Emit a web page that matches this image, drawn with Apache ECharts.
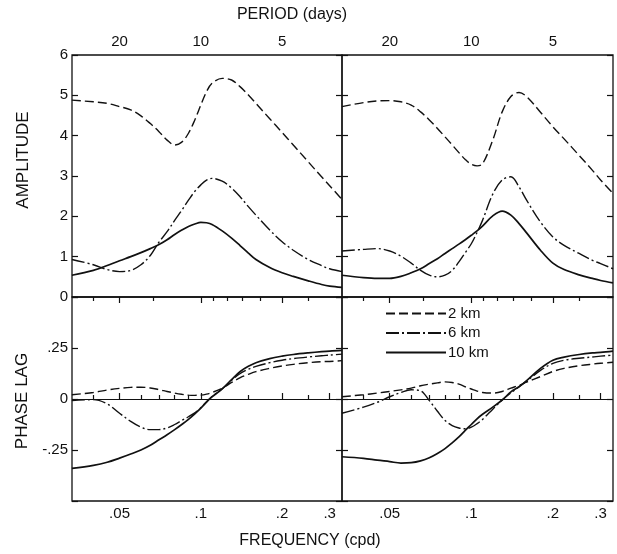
<!DOCTYPE html>
<html>
<head>
<meta charset="utf-8">
<script src="https://cdn.jsdelivr.net/npm/echarts@6/dist/echarts.min.js"></script>
<style>
html,body{margin:0;padding:0;background:#fff;}
#c{width:617px;height:554px;}
</style>
</head>
<body>
<div id="c"></div>
<script>
// Frequency samples (cpd)
var freq = [0.0333, 0.04, 0.045, 0.05, 0.055, 0.06, 0.065, 0.07, 0.075, 0.08, 0.085, 0.09, 0.095, 0.1, 0.105, 0.11, 0.12, 0.13, 0.14, 0.15, 0.16, 0.18, 0.2, 0.22, 0.25, 0.28, 0.3, 0.3333];

// Amplitude, left panel
var ampL_2km  = [4.88, 4.84, 4.8, 4.72, 4.64, 4.49, 4.3, 4.1, 3.89, 3.77, 3.84, 4.06, 4.39, 4.76, 5.09, 5.3, 5.42, 5.38, 5.21, 5.01, 4.8, 4.42, 4.08, 3.77, 3.35, 2.98, 2.76, 2.42];
var ampL_6km  = [0.93, 0.80, 0.68, 0.63, 0.66, 0.8, 1.03, 1.36, 1.62, 1.9, 2.15, 2.4, 2.62, 2.78, 2.9, 2.94, 2.87, 2.7, 2.48, 2.24, 2.03, 1.66, 1.37, 1.16, 0.93, 0.78, 0.7, 0.63];
var ampL_10km = [0.54, 0.66, 0.78, 0.9, 1.0, 1.1, 1.2, 1.3, 1.42, 1.55, 1.66, 1.75, 1.81, 1.85, 1.84, 1.8, 1.64, 1.46, 1.27, 1.09, 0.93, 0.73, 0.6, 0.51, 0.4, 0.31, 0.27, 0.24];

// Amplitude, right panel
var ampR_2km  = [4.72, 4.82, 4.86, 4.87, 4.84, 4.76, 4.59, 4.39, 4.18, 3.97, 3.77, 3.58, 3.41, 3.29, 3.25, 3.3, 3.89, 4.59, 4.97, 5.07, 4.97, 4.58, 4.22, 3.92, 3.51, 3.14, 2.9, 2.57];
var ampR_6km  = [1.14, 1.18, 1.2, 1.14, 1.01, 0.84, 0.66, 0.54, 0.5, 0.54, 0.66, 0.87, 1.1, 1.32, 1.6, 1.9, 2.55, 2.9, 2.98, 2.73, 2.4, 1.86, 1.49, 1.28, 1.08, 0.91, 0.83, 0.7];
var ampR_10km = [0.54, 0.48, 0.46, 0.46, 0.51, 0.6, 0.7, 0.83, 0.95, 1.08, 1.2, 1.31, 1.42, 1.53, 1.64, 1.76, 2.01, 2.13, 2.03, 1.82, 1.59, 1.16, 0.84, 0.68, 0.55, 0.46, 0.41, 0.35];

// Phase lag, left panel
var phL_2km  = [0.021, 0.032, 0.044, 0.052, 0.057, 0.058, 0.054, 0.046, 0.037, 0.029, 0.023, 0.019, 0.018, 0.019, 0.024, 0.032, 0.053, 0.081, 0.105, 0.121, 0.134, 0.150, 0.162, 0.17, 0.178, 0.183, 0.184, 0.188];
var phL_6km  = [-0.008, -0.003, -0.024, -0.07, -0.11, -0.138, -0.15, -0.15, -0.142, -0.125, -0.105, -0.087, -0.068, -0.043, -0.013, 0.012, 0.05, 0.092, 0.125, 0.146, 0.16, 0.178, 0.19, 0.198, 0.206, 0.212, 0.215, 0.22];
var phL_10km = [-0.34, -0.325, -0.31, -0.29, -0.27, -0.25, -0.227, -0.2, -0.175, -0.15, -0.125, -0.1, -0.073, -0.045, -0.015, 0.01, 0.05, 0.095, 0.135, 0.16, 0.178, 0.198, 0.21, 0.218, 0.226, 0.232, 0.235, 0.238];

// Phase lag, right panel
var phR_2km  = [0.011, 0.021, 0.029, 0.037, 0.045, 0.053, 0.065, 0.073, 0.079, 0.084, 0.081, 0.073, 0.06, 0.049, 0.039, 0.032, 0.029, 0.037, 0.053, 0.067, 0.083, 0.11, 0.135, 0.15, 0.163, 0.171, 0.175, 0.18];
var phR_6km  = [-0.07, -0.04, -0.016, 0.011, 0.032, 0.045, 0.04, -0.008, -0.06, -0.105, -0.13, -0.142, -0.146, -0.138, -0.121, -0.1, -0.05, -0.005, 0.03, 0.06, 0.088, 0.14, 0.175, 0.19, 0.2, 0.206, 0.21, 0.215];
var phR_10km = [-0.283, -0.291, -0.3, -0.307, -0.314, -0.312, -0.303, -0.288, -0.267, -0.243, -0.215, -0.186, -0.154, -0.125, -0.097, -0.075, -0.04, -0.005, 0.035, 0.06, 0.09, 0.15, 0.19, 0.205, 0.218, 0.226, 0.229, 0.235];

// Axis ranges and ticks
var freqMin = 1 / 30, freqMax = 1 / 3;
var freqMajorTicks = [0.05, 0.1, 0.2, 0.3];
var freqMinorTicks = [0.04, 0.06, 0.07, 0.08, 0.09, 0.15, 0.25];
var periodMajorTicks = [20, 10, 5];
var periodMinorTicks = [25, 15, 9, 8, 7, 6, 4];
var seriesNames = ['2 km', '6 km', '10 km'];

var FONT = '"Liberation Sans", Arial, Helvetica, sans-serif';
var INK = '#111';

function pairs(ys) { return freq.map(function (f, i) { return [f, ys[i]]; }); }

var lineStyles = [
  { color: INK, width: 1.4, type: [9, 4] },
  { color: INK, width: 1.4, type: [13, 3, 2, 3] },
  { color: INK, width: 1.7, type: 'solid' }
];

var grids = [
  { left: 72, top: 55, width: 270, height: 242 },
  { left: 342, top: 55, width: 271, height: 242 },
  { left: 72, top: 297, width: 270, height: 204 },
  { left: 342, top: 297, width: 271, height: 204 }
].map(function (g) {
  return Object.assign({ show: true, borderColor: INK, borderWidth: 1.3, containLabel: false }, g);
});

function xAx(grid, pos, ticks, len, labels, fmt) {
  return {
    type: 'log', logBase: 10, gridIndex: grid, position: pos,
    min: freqMin, max: freqMax,
    axisLine: { show: false },
    splitLine: { show: false },
    minorTick: { show: false },
    axisTick: { show: true, inside: true, length: len, customValues: ticks, lineStyle: { color: INK, width: 1.2 } },
    axisLabel: labels ? { show: true, customValues: ticks, formatter: fmt, color: INK, fontSize: 15, fontFamily: FONT, margin: pos === 'top' ? 6 : 5 } : { show: false }
  };
}

var periodFmt = function (v) { return String(Math.round(1 / v)); };
var freqFmt = function (v) { return String(Math.round(v * 100) / 100).replace(/^0/, ''); };
var periodMajorF = periodMajorTicks.map(function (p) { return 1 / p; });
var periodMinorF = periodMinorTicks.map(function (p) { return 1 / p; });

var xAxes = [
  xAx(0, 'top', periodMajorF, 6, true, periodFmt),
  xAx(0, 'top', periodMinorF, 4, false),
  xAx(1, 'top', periodMajorF, 6, true, periodFmt),
  xAx(1, 'top', periodMinorF, 4, false),
  xAx(2, 'bottom', freqMajorTicks, 6, true, freqFmt),
  xAx(2, 'bottom', freqMinorTicks, 4, false),
  xAx(3, 'bottom', freqMajorTicks, 6, true, freqFmt),
  xAx(3, 'bottom', freqMinorTicks, 4, false)
];

function yAx(grid, pos, isAmp, labels) {
  return {
    type: 'value', gridIndex: grid, position: pos,
    min: isAmp ? 0 : -0.5, max: isAmp ? 6 : 0.5, interval: isAmp ? 1 : 0.25,
    axisLine: { show: false },
    splitLine: { show: false },
    axisTick: { show: true, inside: true, length: 6, lineStyle: { color: INK, width: 1.2 } },
    axisLabel: labels ? {
      show: true, color: INK, fontSize: 15, fontFamily: FONT, margin: 4,
      formatter: function (v) {
        if (isAmp) return String(v);
        if (Math.abs(v) > 0.3) return '';
        if (v === 0) return '0';
        return (v < 0 ? '-' : '') + String(Math.abs(v)).replace(/^0/, '');
      }
    } : { show: false }
  };
}

var yAxes = [
  yAx(0, 'left', true, true), yAx(0, 'right', true, false),
  yAx(1, 'left', true, false), yAx(1, 'right', true, false),
  yAx(2, 'left', false, true), yAx(2, 'right', false, false),
  yAx(3, 'left', false, false), yAx(3, 'right', false, false)
];

var panels = [
  { x: 0, y: 0, data: [ampL_2km, ampL_6km, ampL_10km] },
  { x: 2, y: 2, data: [ampR_2km, ampR_6km, ampR_10km] },
  { x: 4, y: 4, data: [phL_2km, phL_6km, phL_10km], zero: true },
  { x: 6, y: 6, data: [phR_2km, phR_6km, phR_10km], zero: true }
];

var series = [];
panels.forEach(function (p) {
  p.data.forEach(function (ys, k) {
    var s = {
      name: seriesNames[k], type: 'line', xAxisIndex: p.x, yAxisIndex: p.y,
      data: pairs(ys), symbol: 'none', smooth: 0.35,
      lineStyle: lineStyles[k], itemStyle: { color: INK }
    };
    if (p.zero && k === 2) {
      s.markLine = { silent: true, symbol: 'none', label: { show: false },
        lineStyle: { color: INK, width: 1.1, type: 'solid' }, data: [{ yAxis: 0 }] };
    }
    series.push(s);
  });
});

var chart = echarts.init(document.getElementById('c'), null, { renderer: 'canvas' });
chart.setOption({
  animation: false,
  backgroundColor: '#fff',
  grid: grids,
  xAxis: xAxes,
  yAxis: yAxes,
  legend: {
    data: seriesNames, orient: 'vertical', left: 385, top: 306, padding: 0,
    itemWidth: 60, itemHeight: 14, itemGap: 4.5, selectedMode: false,
    itemStyle: { opacity: 0, borderWidth: 0 },
    textStyle: { color: INK, fontSize: 15, fontFamily: FONT, padding: [0, 0, 0, -3] }
  },
  graphic: [
    { type: 'text', x: 292, y: 15, style: { text: 'PERIOD (days)', font: '16px ' + FONT, fill: INK, align: 'center', verticalAlign: 'middle', textAlign: 'center', textVerticalAlign: 'middle' } },
    { type: 'text', x: 310, y: 541, style: { text: 'FREQUENCY (cpd)', font: '16px ' + FONT, fill: INK, align: 'center', verticalAlign: 'middle', textAlign: 'center', textVerticalAlign: 'middle' } },
    { type: 'text', x: 23, y: 160, rotation: Math.PI / 2, style: { text: 'AMPLITUDE', font: '17px ' + FONT, fill: INK, align: 'center', verticalAlign: 'middle', textAlign: 'center', textVerticalAlign: 'middle' } },
    { type: 'text', x: 22, y: 401, rotation: Math.PI / 2, style: { text: 'PHASE LAG', font: '17px ' + FONT, fill: INK, align: 'center', verticalAlign: 'middle', textAlign: 'center', textVerticalAlign: 'middle' } }
  ],
  series: series
});
</script>
</body>
</html>
